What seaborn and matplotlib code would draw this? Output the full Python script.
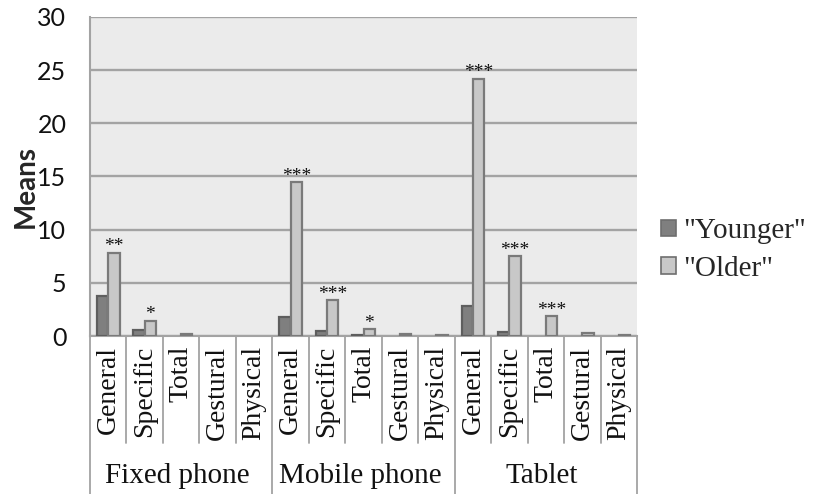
import matplotlib
matplotlib.use("Agg")
import matplotlib.pyplot as plt
import matplotlib.transforms as mtransforms
import seaborn as sns
import pandas as pd
import numpy as np

devices = ["Fixed phone", "Mobile phone", "Tablet"]
measures = ["General", "Specific", "Total", "Gestural", "Physical"]
younger = [3.8, 0.6, 0.0, 0.0, 0.0,
           1.8, 0.5, 0.05, 0.0, 0.0,
           2.85, 0.35, 0.0, 0.0, 0.0]
older = [7.85, 1.45, 0.15, 0.0, 0.0,
         14.45, 3.35, 0.68, 0.15, 0.1,
         24.2, 7.5, 1.9, 0.25, 0.08]
sig_older = ["**", "*", "", "", "",
             "***", "***", "*", "", "",
             "***", "***", "***", "", ""]
groups = ['"Younger"', '"Older"']
yticks = [0, 5, 10, 15, 20, 25, 30]

keys = [f"{d}|{m}" for d in devices for m in measures]
tick_labels = [m for d in devices for m in measures]
df = pd.DataFrame({
    "key": keys * 2,
    "Means": younger + older,
    "group": [groups[0]] * len(keys) + [groups[1]] * len(keys),
})

sns.set_style("white")
plt.rcParams["font.family"] = ["Liberation Serif", "DejaVu Serif"]

fig = plt.figure(figsize=(8.13, 4.94), dpi=100)
ax = fig.add_axes([90 / 813, 1 - 336 / 494, (637 - 90) / 813, (336 - 17) / 494])
ax.set_facecolor("#ebebeb")

palette = {groups[0]: "#7f7f7f", groups[1]: "#c8c8c8"}
sns.barplot(data=df, x="key", y="Means", hue="group", order=keys,
            hue_order=groups, palette=palette, width=0.62, ax=ax,
            saturation=1, linewidth=1.6, edgecolor="#6e6e6e", zorder=3)
for patch in ax.containers[1]:
    patch.set_edgecolor("#7a7a7a")
for patch in ax.containers[0]:
    patch.set_edgecolor("#5e5e5e")
for cont in ax.containers:
    for patch in cont:
        if patch.get_height() == 0:
            patch.set_linewidth(0)

ax.bar_label(ax.containers[1], labels=sig_older, padding=-2, fontsize=14,
             family=["Liberation Serif"], color="#111111")

ax.set_ylim(0, 30)
ax.set_xlim(-0.5, len(keys) - 0.5)
ax.set_yticks(yticks)
ax.set_yticklabels([str(v) for v in yticks], family=["Lato", "DejaVu Sans"],
                   fontsize=18, color="#111111")
ax.yaxis.grid(True, color="#a3a3a3", linewidth=1.7, zorder=0)
ax.set_axisbelow(True)
ax.tick_params(axis="y", direction="out", length=6, width=1.5, color="#a3a3a3", pad=11)
ax.set_ylabel("Means", family=["Lato", "DejaVu Sans"], fontweight="bold",
              fontsize=20, labelpad=-1)
ax.yaxis.label.set_y(0.47)
for s in ["top", "right"]:
    ax.spines[s].set_visible(False)
ax.spines["left"].set_color("#a3a3a3")
ax.spines["left"].set_linewidth(1.5)
ax.spines["bottom"].set_color("#a3a3a3")
ax.spines["bottom"].set_linewidth(1.5)

ax.set_xticks(range(len(keys)))
ax.set_xticklabels(tick_labels, rotation=90, fontsize=20, color="#111111")
ax.tick_params(axis="x", length=0, pad=7)
ax.set_xlabel("")

trans = mtransforms.blended_transform_factory(ax.transData, ax.transAxes)
short_bottom = (336 - 443) / (336 - 17)
long_bottom = (336 - 494) / (336 - 17)
for i in range(len(keys) + 1):
    xb = i - 0.5
    bottom = long_bottom if i % len(measures) == 0 else short_bottom
    ax.plot([xb, xb], [0, bottom], transform=trans, color="#a3a3a3",
            linewidth=1.3, clip_on=False, zorder=1)

for j, d in enumerate(devices):
    xc = j * len(measures) + (len(measures) - 1) / 2 - 0.1
    ax.text(xc, (336 - 476) / (336 - 17), d, transform=trans, ha="center",
            va="center", fontsize=21, color="#111111")

ax.legend_.remove()
handles = [plt.Rectangle((0, 0), 1, 1, facecolor=palette[g],
                         edgecolor="#6e6e6e", linewidth=1.2) for g in groups]
fig.legend(handles, groups, loc="center left", bbox_to_anchor=(661 / 813, 1 - 250 / 494),
           frameon=False, fontsize=21, handlelength=0.5, handleheight=0.5,
           handletextpad=0.25, labelspacing=0.38, borderaxespad=0, borderpad=0)

fig.savefig("out.png", dpi=100)
